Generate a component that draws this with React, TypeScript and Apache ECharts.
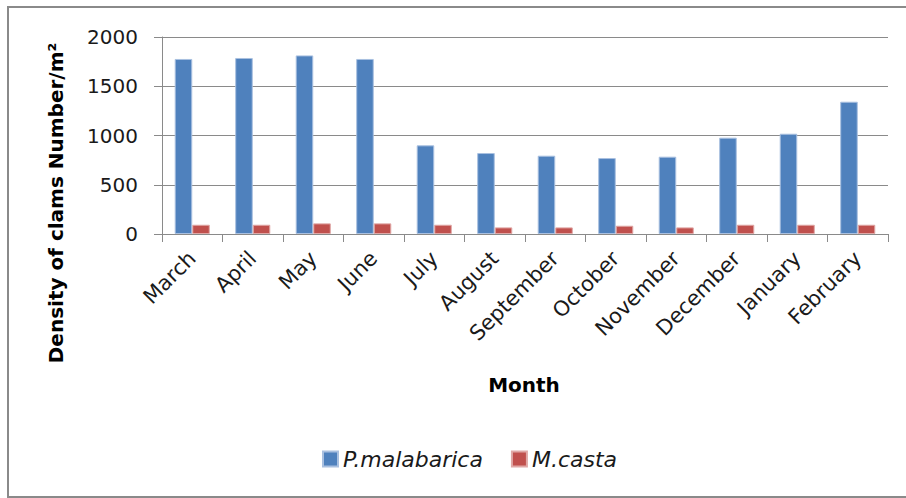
import React, { useEffect, useRef } from "react";
import * as echarts from "echarts";

const months = [
  "March", "April", "May", "June", "July", "August",
  "September", "October", "November", "December", "January", "February",
];
const malabarica = [1777, 1787, 1813, 1777, 900, 822, 795, 771, 785, 978, 1018, 1343];
const casta = [94, 94, 108, 108, 94, 67, 67, 84, 67, 94, 94, 94];
const yTicks = { min: 0, max: 2000, interval: 500 };

const FONT = "DejaVu Sans";
const AXIS_GREY = "#8a8a8a";

export default function App() {
  const ref = useRef<HTMLDivElement>(null);

  useEffect(() => {
    if (!ref.current) return;
    const chart = echarts.init(ref.current, undefined, { renderer: "svg" });
    chart.setOption({
      animation: false,
      backgroundColor: "#ffffff",
      grid: { left: 162, right: 18, top: 37, bottom: 264 },
      legend: {
        left: 317,
        top: 443,
        icon: "rect",
        itemWidth: 15,
        itemHeight: 15,
        itemGap: 28,
        textStyle: { fontFamily: FONT, fontSize: 22, fontStyle: "italic", color: "#1a1a1a" },
        data: ["P.malabarica", "M.casta"],
      },
      xAxis: {
        type: "category",
        data: months,
        axisLine: { lineStyle: { color: AXIS_GREY, width: 1 } },
        axisTick: { show: true, length: 8, lineStyle: { color: AXIS_GREY } },
        axisLabel: {
          rotate: 45,
          interval: 0,
          margin: 21,
          fontFamily: FONT,
          fontSize: 21,
          color: "#1a1a1a",
        },
      },
      yAxis: {
        type: "value",
        min: yTicks.min,
        max: yTicks.max,
        interval: yTicks.interval,
        axisLine: { show: true, lineStyle: { color: AXIS_GREY, width: 1 } },
        axisTick: { show: true, length: 8, lineStyle: { color: AXIS_GREY } },
        splitLine: { lineStyle: { color: AXIS_GREY, width: 1 } },
        axisLabel: {
          margin: 24,
          fontFamily: FONT,
          fontSize: 20,
          color: "#1a1a1a",
          formatter: (v: number) => String(v),
        },
      },
      series: [
        {
          name: "P.malabarica",
          type: "bar",
          data: malabarica,
          barGap: "0%",
          barCategoryGap: "42%",
          itemStyle: { color: "#4F81BD", borderColor: "#a9c0e0", borderWidth: 1 },
        },
        {
          name: "M.casta",
          type: "bar",
          data: casta,
          barGap: "0%",
          barCategoryGap: "42%",
          itemStyle: { color: "#C0504D", borderColor: "#e0a8a6", borderWidth: 1 },
        },
      ],
      graphic: [
        {
          type: "rect",
          shape: { x: 8, y: 7, width: 910, height: 490 },
          style: { fill: "none", stroke: AXIS_GREY, lineWidth: 2 },
          silent: true,
        },
        {
          type: "text",
          x: 56,
          y: 203,
          rotation: Math.PI / 2,
          style: {
            text: "Density of clams Number/m²",
            fontFamily: FONT,
            fontSize: 20,
            fontWeight: "bold",
            fill: "#000",
            align: "center",
            verticalAlign: "middle",
          },
        },
        {
          type: "text",
          x: 524,
          y: 385,
          style: {
            text: "Month",
            fontFamily: FONT,
            fontSize: 20,
            fontWeight: "bold",
            fill: "#000",
            align: "center",
            verticalAlign: "middle",
          },
        },
      ],
    });
    return () => chart.dispose();
  }, []);

  return (
    <div
      ref={ref}
      style={{ position: "fixed", left: 0, top: 0, width: 906, height: 498 }}
    />
  );
}
